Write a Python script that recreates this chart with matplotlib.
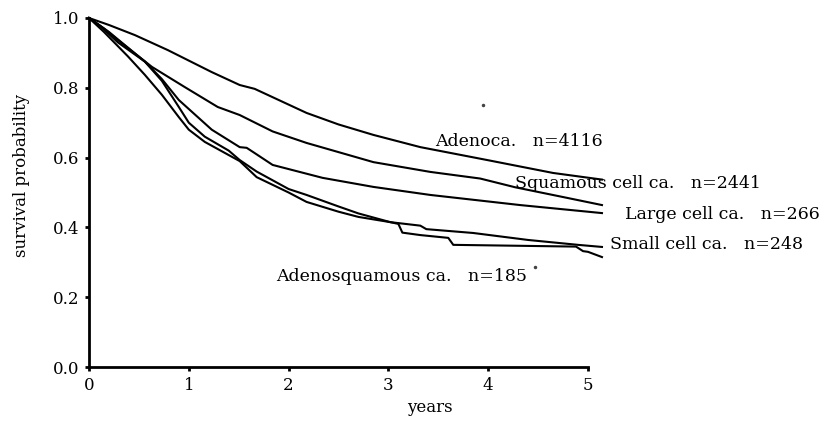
import matplotlib
matplotlib.use("Agg")
import matplotlib.pyplot as plt

# Kaplan-Meier curves (years, survival probability)
adeno_t = [0, 0.2, 0.46, 0.79, 1.23, 1.51, 1.66, 2.18, 2.5, 2.85, 3.32, 3.99, 4.65, 5.14]
adeno_s = [1.0, 0.98, 0.951, 0.908, 0.845, 0.808, 0.797, 0.728, 0.695, 0.665, 0.63, 0.593, 0.556, 0.537]

squam_t = [0, 0.15, 0.29, 0.63, 0.96, 1.29, 1.51, 1.84, 2.18, 2.85, 3.42, 3.92, 4.27, 4.75, 5.14]
squam_s = [1.0, 0.97, 0.937, 0.86, 0.802, 0.745, 0.722, 0.675, 0.642, 0.587, 0.559, 0.54, 0.515, 0.487, 0.464]

large_t = [0, 0.1, 0.29, 0.56, 0.73, 0.9, 1.23, 1.51, 1.58, 1.66, 1.84, 2.34, 2.85, 3.42, 4.32, 5.14]
large_s = [1.0, 0.98, 0.93, 0.875, 0.825, 0.765, 0.68, 0.63, 0.628, 0.613, 0.579, 0.542, 0.516, 0.493, 0.464, 0.441]

small_t = [0, 0.2, 0.39, 0.56, 0.73, 0.9, 1.0, 1.16, 1.4, 1.51, 1.68, 2.0, 2.18, 2.5, 2.7,
           3.02, 3.32, 3.38, 3.85, 4.4, 4.9, 5.14]
small_s = [1.0, 0.96, 0.915, 0.875, 0.82, 0.745, 0.70, 0.66, 0.62, 0.593, 0.56, 0.51, 0.493, 0.46, 0.44,
           0.415, 0.405, 0.395, 0.384, 0.364, 0.35, 0.344]

adsq_t = [0, 0.15, 0.39, 0.56, 0.73, 0.9, 1.0, 1.16, 1.51, 1.68, 2.0, 2.18, 2.5, 2.7,
          3.02, 3.1, 3.14, 3.32, 3.6, 3.65, 4.88, 4.95, 5.0, 5.14]
adsq_s = [1.0, 0.96, 0.89, 0.837, 0.78, 0.716, 0.68, 0.645, 0.59, 0.544, 0.50, 0.473, 0.445, 0.43,
          0.415, 0.41, 0.385, 0.378, 0.37, 0.35, 0.345, 0.332, 0.33, 0.315]

labels = ["Adenoca.   n=4116", "Squamous cell ca.   n=2441", "Large cell ca.   n=266",
          "Small cell ca.   n=248", "Adenosquamous ca.   n=185"]
label_t = [3.47, 4.27, 5.37, 5.22, 1.87]
label_s = [0.645, 0.527, 0.436, 0.35, 0.258]

# stray specks in the scan
speck_t = [3.95, 4.47]
speck_s = [0.75, 0.287]

x_ticks = [0, 1, 2, 3, 4, 5]
y_ticks = [0.0, 0.2, 0.4, 0.6, 0.8, 1.0]

plt.rcParams['font.family'] = ['DejaVu Serif']

fig = plt.figure(figsize=(8.23, 4.21), dpi=100)
ax = fig.add_axes([89 / 823, 54 / 421, 499 / 823, 349 / 421])

for t, s in [(adeno_t, adeno_s), (squam_t, squam_s), (large_t, large_s),
             (small_t, small_s), (adsq_t, adsq_s)]:
    ax.plot(t, s, color='black', lw=1.5, clip_on=False)

ax.plot(speck_t, speck_s, 'o', color='#444444', ms=1.5, clip_on=False)

for txt, t, s in zip(labels, label_t, label_s):
    ax.text(t, s, txt, fontsize=12.5, ha='left', va='center', clip_on=False)

ax.set_xlim(0, 5)
ax.set_ylim(0, 1)
ax.set_xticks(x_ticks)
ax.set_yticks(y_ticks)
ax.set_xticklabels([str(v) for v in x_ticks])
ax.set_yticklabels([f"{v:.1f}" for v in y_ticks])
ax.tick_params(direction='out', length=3, width=2, labelsize=12, pad=4)

for side in ['top', 'right']:
    ax.spines[side].set_visible(False)
for side in ['left', 'bottom']:
    ax.spines[side].set_linewidth(2)

fig.text(22 / 823, 1 - 175 / 421, "survival probability", rotation=90,
         ha='center', va='center', fontsize=12)
fig.text(430 / 823, 1 - 407 / 421, "years", ha='center', va='center', fontsize=12)

fig.savefig("out.png", dpi=100)
